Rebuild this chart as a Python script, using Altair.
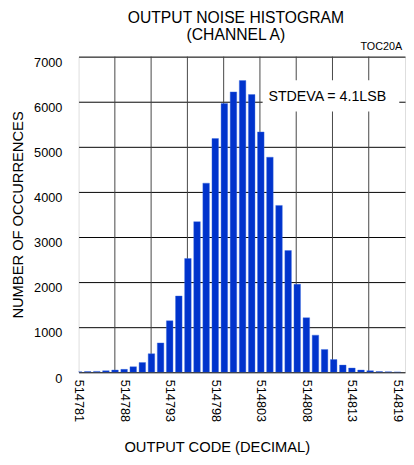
import altair as alt
import pandas as pd

# ---- data ----
codes = list(range(514783, 514819))
counts = [10, 15, 20, 35, 50, 65, 123, 217, 412, 651,
          1142, 1692, 2523, 3341, 4194, 5184, 5958, 6218, 6470, 6160,
          5330, 4770, 3700, 2700, 1950, 1210, 824, 506, 282, 159,
          94, 50, 36, 15, 10, 8]

tick_codes = [514783, 514788, 514793, 514798, 514803, 514808, 514813, 514818]
tick_labels = ["514781", "514788", "514793", "514798", "514803", "514808", "514813", "514819"]
y_ticks = [0, 1000, 2000, 3000, 4000, 5000, 6000, 7000]
grid_divisions = [1, 2, 3, 4, 5, 6, 7, 8]   # 9 equal vertical grid divisions

note_text = ["STDEVA = 4.1LSB"]
note_code = [514810.3]
note_count = [6110]
note_box_code = [514803.2, 514818.2]
note_box_count = [5783, 6478]
corner_tag = "TOC20A"

FONT = "Liberation Sans, Arial, sans-serif"
X_DOMAIN = [codes[0], codes[-1] + 0.83]
Y_DOMAIN = [0, 7000]
HALF_BAR = 0.36

df = pd.DataFrame({"code": codes, "count": counts})
xscale = alt.Scale(domain=X_DOMAIN, nice=False, zero=False)
yscale = alt.Scale(domain=Y_DOMAIN, nice=False)

label_expr = "[{}][indexof([{}], datum.value)]".format(
    ",".join("'%s'" % s for s in tick_labels), ",".join(str(c) for c in tick_codes))

y_axis = alt.Axis(values=y_ticks, format="d", ticks=False, domain=False, grid=True,
                  gridColor="black", gridWidth=1, gridOpacity=1,
                  labelBaseline="top", labelPadding=17, labelFontSize=13,
                  labelFont=FONT, labelColor="black",
                  title="NUMBER OF OCCURRENCES", titleFont=FONT, titleFontSize=15,
                  titleFontWeight="normal", titleColor="black", titlePadding=8)

grid = alt.Chart(pd.DataFrame({"g": grid_divisions})).mark_rule(
    color="#444444", strokeWidth=1
).encode(
    x=alt.X("g:Q", scale=alt.Scale(domain=[0, 9], nice=False), axis=None)
)

bars = alt.Chart(df).transform_calculate(
    x0="datum.code - %f" % HALF_BAR, x1="datum.code + %f" % HALF_BAR, base="0"
).mark_bar(color="#0033cc", stroke="#3f6fe0", strokeWidth=0.4, clip=True).encode(
    x=alt.X("x0:Q", scale=xscale,
            axis=alt.Axis(values=tick_codes, labelExpr=label_expr, labelAngle=90,
                          labelAlign="left", labelBaseline="middle", labelPadding=7,
                          ticks=False, domain=False, grid=False,
                          labelFontSize=13, labelFont=FONT, labelColor="black",
                          title="OUTPUT CODE (DECIMAL)", titleFont=FONT, titleFontSize=15,
                          titleFontWeight="normal", titleColor="black",
                          titleX=141, titleY=69, titleBaseline="top", titleAlign="center")),
    x2="x1:Q",
    y=alt.Y("count:Q", scale=yscale, axis=y_axis),
    y2="base:Q",
)

box = alt.Chart(pd.DataFrame({"c0": [note_box_code[0]], "c1": [note_box_code[1]],
                              "n0": [note_box_count[0]], "n1": [note_box_count[1]]})).mark_rect(
    color="white"
).encode(
    x=alt.X("c0:Q", scale=xscale, axis=None), x2="c1:Q",
    y=alt.Y("n0:Q", scale=yscale, axis=y_axis), y2="n1:Q",
)

note = alt.Chart(pd.DataFrame({"t": note_text, "c": note_code, "n": note_count})).mark_text(
    font=FONT, fontSize=14.5, color="black", align="center", baseline="middle"
).encode(
    x=alt.X("c:Q", scale=xscale, axis=None),
    y=alt.Y("n:Q", scale=yscale, axis=y_axis),
    text="t:N",
)

tag = alt.Chart(pd.DataFrame({"t": [corner_tag]})).mark_text(
    font=FONT, fontSize=11, color="black", align="right", baseline="alphabetic", dx=-3, dy=-7
).encode(
    x=alt.datum(X_DOMAIN[1], scale=xscale, type="quantitative", axis=None),
    y=alt.datum(Y_DOMAIN[1], scale=yscale, type="quantitative", axis=y_axis),
    text="t:N",
)

chart = alt.layer(grid, bars, box, note, tag).resolve_scale(x="independent").properties(
    width=333, height=322,
    title=alt.Title(["OUTPUT NOISE HISTOGRAM", "(CHANNEL A)"], font=FONT, fontSize=16,
                    fontWeight="normal", color="black", lineHeight=17, dx=-6, offset=-2),
    padding={"left": 72, "top": 45, "right": 1, "bottom": 92},
    autosize="none",
).configure_view(stroke="black", strokeWidth=2).configure(background="white")

chart.save("out.html", embed_options={"renderer": "svg", "actions": False})
